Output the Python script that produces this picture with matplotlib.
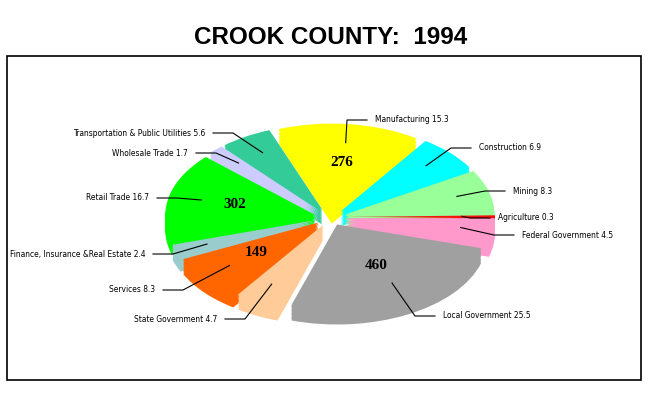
import numpy as np
import matplotlib
matplotlib.use("Agg")
import matplotlib.pyplot as plt
from matplotlib.patches import Rectangle

# Crook County employment shares, 1994 (counter-clockwise from 3 o'clock)
sectors = ["Agriculture", "Mining", "Construction", "Manufacturing",
           "Transportation & Public Utilities", "Wholesale Trade", "Retail Trade",
           "Finance, Insurance &Real Estate", "Services", "State Government",
           "Local Government", "Federal Government"]
pct = [0.3, 8.3, 6.9, 15.3, 5.6, 1.7, 16.7, 2.4, 8.3, 4.7, 25.5, 4.5]
counts = {"Manufacturing": 276, "Retail Trade": 302, "Services": 149,
          "Local Government": 460}
colors = ["#FF0000", "#99FF99", "#00FFFF", "#FFFF00", "#33CC99", "#CCCCFF",
          "#00FF00", "#99CCCC", "#FF6600", "#FFCC99", "#A0A0A0", "#FF99CC"]

# label layout in figure pixels (x of text edge, y), side of the pie
label_pos = {
    "Agriculture": (498, 218, "L"),
    "Mining": (513, 191, "L"),
    "Construction": (479, 148, "L"),
    "Manufacturing": (375, 120, "L"),
    "Transportation & Public Utilities": (205, 133, "R"),
    "Wholesale Trade": (188, 153, "R"),
    "Retail Trade": (149, 198, "R"),
    "Finance, Insurance &Real Estate": (145, 254, "R"),
    "Services": (155, 290, "R"),
    "State Government": (217, 319, "R"),
    "Local Government": (443, 316, "L"),
    "Federal Government": (522, 235, "L"),
}

W, H = 650, 400
cx, cy = 330, 217          # pie centre, pixels from top
rx, ry = 150, 85           # ellipse radii in pixels
depth = 15                 # thickness of the 3-D slab in pixels

fig = plt.figure(figsize=(6.5, 4), dpi=100)

lim = 1.25
pax = fig.add_axes([(cx - lim * rx) / W, (H - cy - lim * ry) / H,
                    2 * lim * rx / W, 2 * lim * ry / H])
explode = [0.1] * len(pct)
d_data = depth / ry
for d in np.linspace(d_data, 0, 12):
    wedges, _ = pax.pie(pct, colors=colors, explode=explode, startangle=0,
                        center=(0, -d), wedgeprops=dict(linewidth=0))
pax.set_aspect("auto")
pax.set_xlim(-lim, lim)
pax.set_ylim(-lim, lim)
pax.axis("off")

# count labels inside the big slices
for w, name in zip(wedges, sectors):
    if name in counts:
        a = np.deg2rad((w.theta1 + w.theta2) / 2)
        x = w.center[0] + 0.55 * w.r * np.cos(a)
        y = w.center[1] + 0.55 * w.r * np.sin(a)
        pax.text(x, y, str(counts[name]), ha="center", va="center",
                 fontsize=11, fontweight="bold", family="Liberation Serif")

ov = fig.add_axes([0, 0, 1, 1])
ov.set_xlim(0, W)
ov.set_ylim(H, 0)
ov.axis("off")
ov.patch.set_alpha(0)

ov.add_patch(Rectangle((7, 56), 634, 324, fill=False, lw=1.2, ec="black"))
ov.text(331, 37, "CROOK COUNTY:  1994", ha="center", va="center",
        fontsize=17.5, fontweight="bold", family="Liberation Sans")

for w, name, p in zip(wedges, sectors, pct):
    tx, ty, side = label_pos[name]
    a = np.deg2rad((w.theta1 + w.theta2) / 2)
    ax_ = w.center[0] + 0.78 * w.r * np.cos(a)
    ay_ = w.center[1] + 0.78 * w.r * np.sin(a)
    px, py = ov.transData.inverted().transform(pax.transData.transform((ax_, ay_)))
    if side == "L":
        end, elbow = tx - 8, tx - 28
        ha = "left"
    else:
        end, elbow = tx + 8, tx + 28
        ha = "right"
    ov.plot([px, elbow, end], [py, ty, ty], color="black", lw=0.8)
    ov.text(tx, ty, f"{name} {p}", ha=ha, va="center", fontsize=6,
            family="DejaVu Sans", fontstretch="condensed")

fig.savefig("out.png", dpi=100)
